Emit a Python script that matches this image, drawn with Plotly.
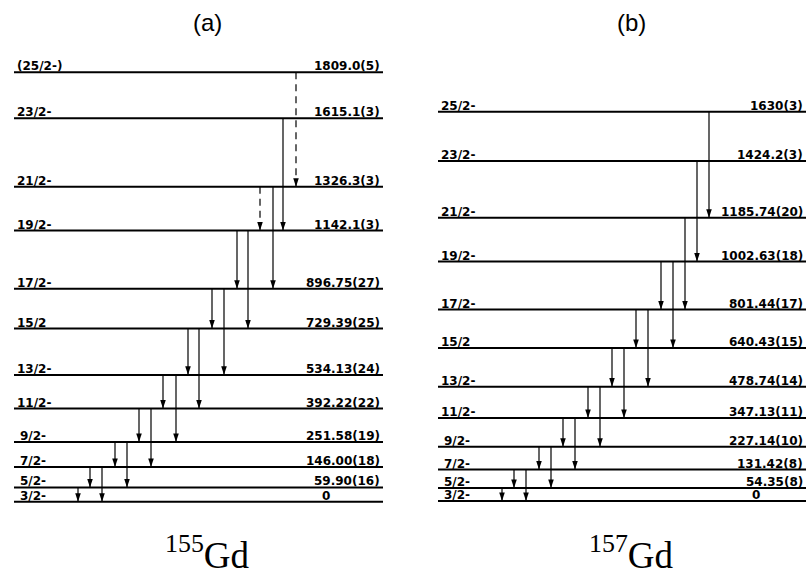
import plotly.graph_objects as go

# ---------------- level data ----------------
# 155Gd band
GD155_SPIN = ["3/2-", "5/2-", "7/2-", "9/2-", "11/2-", "13/2-", "15/2",
              "17/2-", "19/2-", "21/2-", "23/2-", "(25/2-)"]
GD155_ENERGY = [0, 59.90, 146.00, 251.58, 392.22, 534.13, 729.39,
                896.75, 1142.1, 1326.3, 1615.1, 1809.0]
GD155_ELABEL = ["0", "59.90(16)", "146.00(18)", "251.58(19)", "392.22(22)",
                "534.13(24)", "729.39(25)", "896.75(27)", "1142.1(3)",
                "1326.3(3)", "1615.1(3)", "1809.0(5)"]
# gamma transitions: initial level index -> final level index
GD155_FROM = [1, 2, 2, 3, 3, 4, 4, 5, 5, 6, 6, 7, 7, 8, 8, 9, 9, 10, 11]
GD155_TO = [0, 1, 0, 2, 1, 3, 2, 4, 3, 5, 4, 6, 5, 7, 6, 8, 7, 8, 9]
GD155_TENTATIVE = [False] * 15 + [True, False, False, True]

# 157Gd band
GD157_SPIN = ["3/2-", "5/2-", "7/2-", "9/2-", "11/2-", "13/2-", "15/2",
              "17/2-", "19/2-", "21/2-", "23/2-", "25/2-"]
GD157_ENERGY = [0, 54.35, 131.42, 227.14, 347.13, 478.74, 640.43,
                801.44, 1002.63, 1185.74, 1424.2, 1630]
GD157_ELABEL = ["0", "54.35(8)", "131.42(8)", "227.14(10)", "347.13(11)",
                "478.74(14)", "640.43(15)", "801.44(17)", "1002.63(18)",
                "1185.74(20)", "1424.2(3)", "1630(3)"]
GD157_FROM = [1, 2, 2, 3, 3, 4, 4, 5, 5, 6, 6, 7, 7, 8, 8, 9, 10, 11]
GD157_TO = [0, 1, 0, 2, 1, 3, 2, 4, 3, 5, 4, 6, 5, 7, 6, 7, 8, 9]
GD157_TENTATIVE = [False] * 18

# ---------------- drawing layout ----------------
W, H = 807, 575
PANELS = [
    dict(spin=GD155_SPIN, energy=GD155_ENERGY, elabel=GD155_ELABEL,
         frm=GD155_FROM, to=GD155_TO, tent=GD155_TENTATIVE,
         yaxis="y", yref="y", x0=14, x1=383, zero_x=326,
         arrow_x=[78, 90, 102, 115, 127, 139, 151, 163, 176, 188, 199,
                  212, 224, 237, 248, 260, 273, 283, 296],
         title="(a)", title_x=208, iso="<sup>155</sup>Gd", iso_x=207),
    dict(spin=GD157_SPIN, energy=GD157_ENERGY, elabel=GD157_ELABEL,
         frm=GD157_FROM, to=GD157_TO, tent=GD157_TENTATIVE,
         yaxis="y2", yref="y2", x0=438, x1=806, zero_x=756,
         arrow_x=[502, 514, 526, 539, 551, 563, 575, 588, 600, 612, 624,
                  636, 648, 661, 673, 685, 697, 709],
         title="(b)", title_x=631, iso="<sup>157</sup>Gd", iso_x=631),
]

LABEL_FONT = dict(family="DejaVu Sans", size=12, color="black", weight="bold")

fig = go.Figure()
annotations = []

for p in PANELS:
    # level lines
    lx, ly = [], []
    for e in p["energy"]:
        lx += [p["x0"], p["x1"], None]
        ly += [e, e, None]
    fig.add_trace(go.Scatter(x=lx, y=ly, mode="lines", yaxis=p["yaxis"],
                             line=dict(color="black", width=2),
                             hoverinfo="skip", showlegend=False))

    # transitions (solid and tentative/dashed)
    for dashed in (False, True):
        sx, sy, hx, hy = [], [], [], []
        for i, j, t, ax in zip(p["frm"], p["to"], p["tent"], p["arrow_x"]):
            if t != dashed:
                continue
            sx += [ax, ax, None]
            sy += [p["energy"][i], p["energy"][j], None]
            hx.append(ax)
            hy.append(p["energy"][j])
        if not hx:
            continue
        fig.add_trace(go.Scatter(
            x=sx, y=sy, mode="lines", yaxis=p["yaxis"],
            line=dict(color="black", width=1.2,
                      dash="7px,5px" if dashed else "solid"),
            hoverinfo="skip", showlegend=False))
        fig.add_trace(go.Scatter(
            x=hx, y=hy, mode="markers", yaxis=p["yaxis"],
            marker=dict(symbol="arrow", angle=180, size=9, color="black",
                        line=dict(width=0)),
            hoverinfo="skip", showlegend=False))

    # level labels (single-digit numerators sit slightly indented)
    for s, e, lab in zip(p["spin"], p["energy"], p["elabel"]):
        indent = 4 if s.index("/") == 1 else 1
        annotations.append(dict(
            x=p["x0"] + indent, y=e, xref="x", yref=p["yref"], text=s,
            showarrow=False, xanchor="left", yanchor="bottom", yshift=-3,
            font=LABEL_FONT))
        if e == 0:
            annotations.append(dict(
                x=p["zero_x"], y=e, xref="x", yref=p["yref"], text=lab,
                showarrow=False, xanchor="center", yanchor="bottom",
                yshift=-3, font=LABEL_FONT))
        else:
            annotations.append(dict(
                x=p["x1"] - 1, y=e, xref="x", yref=p["yref"], text=lab,
                showarrow=False, xanchor="right", yanchor="bottom",
                yshift=-3, font=LABEL_FONT))

    # panel tag and nucleus name
    annotations.append(dict(
        x=p["title_x"] / W, y=1 - 22.5 / H, xref="paper", yref="paper",
        text=p["title"], showarrow=False, xanchor="center", yanchor="middle",
        font=dict(family="Liberation Sans", size=24, color="black")))
    annotations.append(dict(
        x=p["iso_x"] / W, y=1 - 552 / H, xref="paper", yref="paper",
        text=p["iso"], showarrow=False, xanchor="center", yanchor="middle",
        font=dict(family="Liberation Serif", size=37, color="black")))

fig.update_layout(
    width=W, height=H,
    margin=dict(l=0, r=0, t=0, b=0),
    paper_bgcolor="white", plot_bgcolor="white",
    xaxis=dict(range=[0, W], visible=False, fixedrange=True),
    # energy scales (keV) for the two level schemes
    yaxis=dict(range=[-308.8, 2113.3], visible=False, fixedrange=True),
    yaxis2=dict(range=[-309.9, 2098.0], visible=False, fixedrange=True,
                overlaying="y"),
    annotations=annotations,
    showlegend=False,
)

fig.write_html("out.html")
